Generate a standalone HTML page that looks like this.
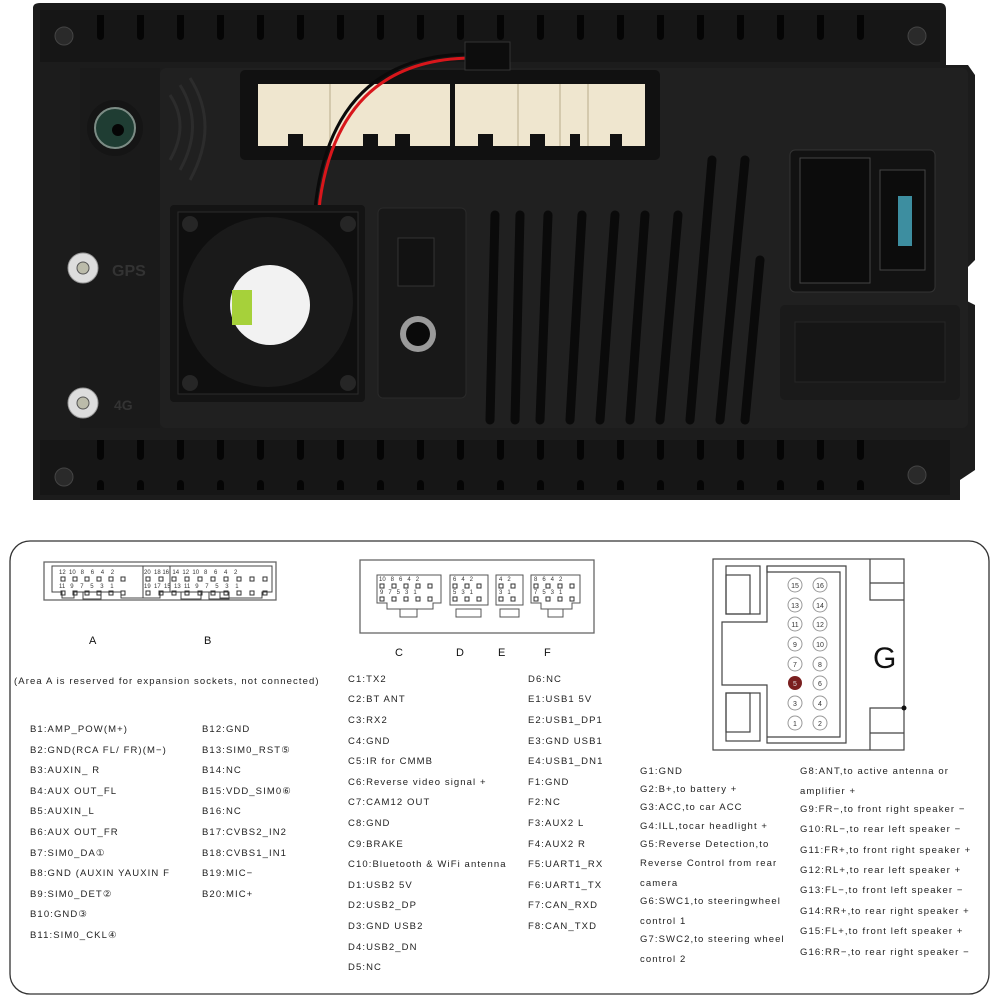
<!DOCTYPE html>
<html><head><meta charset="utf-8"><style>
html,body{margin:0;padding:0;background:#fff;}
svg{display:block;}
.t{font-family:"Liberation Sans",sans-serif;font-size:9.5px;letter-spacing:1.1px;fill:#222;}
.n{font-family:"Liberation Sans",sans-serif;font-size:6px;fill:#333;white-space:pre;}
.L{font-family:"Liberation Sans",sans-serif;font-size:11px;fill:#111;}
</style></head><body>
<svg width="1000" height="1000" viewBox="0 0 1000 1000" xmlns="http://www.w3.org/2000/svg">
<defs>
<pattern id="pA" x="60" y="576" width="12" height="14" patternUnits="userSpaceOnUse"><rect x="1" y="1" width="4" height="4" fill="none" stroke="#333" stroke-width="1"/></pattern>
<pattern id="pB" x="145" y="576" width="13" height="14" patternUnits="userSpaceOnUse"><rect x="1" y="1" width="4" height="4" fill="none" stroke="#333" stroke-width="1"/></pattern>
<pattern id="pC" x="379" y="583" width="12" height="13" patternUnits="userSpaceOnUse"><rect x="1" y="1" width="4" height="4" fill="none" stroke="#333" stroke-width="1"/></pattern>
<pattern id="pD" x="452" y="583" width="12" height="13" patternUnits="userSpaceOnUse"><rect x="1" y="1" width="4" height="4" fill="none" stroke="#333" stroke-width="1"/></pattern>
<pattern id="pE" x="498" y="583" width="12" height="13" patternUnits="userSpaceOnUse"><rect x="1" y="1" width="4" height="4" fill="none" stroke="#333" stroke-width="1"/></pattern>
<pattern id="pF" x="533" y="583" width="12" height="13" patternUnits="userSpaceOnUse"><rect x="1" y="1" width="4" height="4" fill="none" stroke="#333" stroke-width="1"/></pattern>
<pattern id="slot" x="0" y="0" width="40" height="60" patternUnits="userSpaceOnUse"><rect x="17" y="0" width="7" height="40" rx="3.5" fill="#050505"/></pattern>
</defs>
<!-- ===== device photo ===== -->
<path d="M33 8 Q33 3 40 3 L940 3 Q946 3 946 10 L946 65 L968 65 L975 75 L975 260 L965 270 L965 300 L975 305 L975 470 L960 480 L960 500 L33 500 Z" fill="#1c1c1c"/>
<rect x="40" y="10" width="900" height="52" fill="#161616"/>
<rect x="95" y="15" width="790" height="45" fill="url(#slot)"/>
<rect x="40" y="440" width="910" height="55" fill="#161616"/>
<rect x="95" y="440" width="790" height="50" fill="url(#slot)"/>
<circle cx="64" cy="36" r="9" fill="#2a2a2a" stroke="#444"/>
<circle cx="917" cy="36" r="9" fill="#2a2a2a" stroke="#444"/>
<circle cx="64" cy="477" r="9" fill="#2a2a2a" stroke="#444"/>
<circle cx="917" cy="475" r="9" fill="#2a2a2a" stroke="#444"/>
<rect x="160" y="68" width="808" height="360" fill="#202020" rx="6"/>
<rect x="80" y="68" width="80" height="360" fill="#1a1a1a"/>
<circle cx="115" cy="128" r="28" fill="#151515"/>
<circle cx="115" cy="128" r="20" fill="#1f3d33" stroke="#7c8c85" stroke-width="2"/>
<circle cx="118" cy="130" r="6" fill="#050505"/>
<path d="M170 95 Q190 125 170 160 M180 85 Q205 125 180 170 M190 78 Q220 125 190 180" stroke="#2c2c2c" stroke-width="3" fill="none"/>
<circle cx="83" cy="268" r="15" fill="#ddd" stroke="#999"/><circle cx="83" cy="268" r="6" fill="#bba" stroke="#555"/>
<circle cx="83" cy="403" r="15" fill="#ddd" stroke="#999"/><circle cx="83" cy="403" r="6" fill="#bba" stroke="#555"/>
<text x="112" y="276" font-family="Liberation Sans" font-size="16" fill="#333" font-weight="bold">GPS</text>
<text x="114" y="410" font-family="Liberation Sans" font-size="14" fill="#333" font-weight="bold">4G</text>
<rect x="240" y="70" width="420" height="90" fill="#111" rx="5"/>
<rect x="258" y="84" width="192" height="62" fill="#efe6cf"/>
<rect x="455" y="84" width="190" height="62" fill="#efe6cf"/>
<g fill="#111"><rect x="288" y="134" width="15" height="12"/><rect x="363" y="134" width="15" height="12"/><rect x="395" y="134" width="15" height="12"/><rect x="478" y="134" width="15" height="12"/><rect x="530" y="134" width="15" height="12"/><rect x="570" y="134" width="10" height="12"/><rect x="610" y="134" width="12" height="12"/></g>
<path d="M330 84 V146 M518 84 V146 M560 84 V146 M588 84 V146" stroke="#d4c9ad" stroke-width="2"/>
<path d="M470 58 Q340 60 320 200 Q315 260 290 285" stroke="#d8161b" stroke-width="3" fill="none"/>
<path d="M472 54 Q335 54 316 200 Q311 258 286 285" stroke="#0a0a0a" stroke-width="3" fill="none"/>
<rect x="465" y="42" width="45" height="28" fill="#0d0d0d" stroke="#333"/>
<rect x="170" y="205" width="195" height="197" fill="#141414" rx="4"/>
<rect x="178" y="212" width="180" height="182" fill="#0f0f0f" stroke="#2b2b2b"/>
<circle cx="268" cy="302" r="85" fill="#1a1a1a"/>
<circle cx="190" cy="224" r="8" fill="#262626"/><circle cx="348" cy="224" r="8" fill="#262626"/><circle cx="190" cy="383" r="8" fill="#262626"/><circle cx="348" cy="383" r="8" fill="#262626"/>
<circle cx="270" cy="305" r="40" fill="#f2f2f2"/>
<rect x="232" y="290" width="20" height="35" fill="#a6d13a"/>
<rect x="378" y="208" width="88" height="190" fill="#181818" rx="5" stroke="#2a2a2a"/>
<rect x="398" y="238" width="36" height="48" fill="#121212" stroke="#333"/>
<circle cx="418" cy="334" r="18" fill="#9a9a9a"/><circle cx="418" cy="334" r="12" fill="#0a0a0a"/>
<g stroke="#0a0a0a" stroke-width="9" stroke-linecap="round">
<line x1="495" y1="215" x2="490" y2="420"/><line x1="520" y1="215" x2="515" y2="420"/><line x1="548" y1="215" x2="540" y2="420"/><line x1="582" y1="215" x2="570" y2="420"/><line x1="615" y1="215" x2="600" y2="420"/><line x1="645" y1="215" x2="630" y2="420"/><line x1="678" y1="215" x2="660" y2="420"/><line x1="712" y1="160" x2="690" y2="420"/><line x1="745" y1="160" x2="720" y2="420"/><line x1="760" y1="260" x2="745" y2="420"/>
</g>
<rect x="790" y="150" width="145" height="142" fill="#121212" rx="5" stroke="#333"/>
<rect x="800" y="158" width="70" height="125" fill="#0c0c0c" stroke="#444"/>
<rect x="880" y="170" width="45" height="100" fill="#0c0c0c" stroke="#444"/>
<rect x="898" y="196" width="14" height="50" fill="#3d8ea0"/>
<rect x="780" y="305" width="180" height="95" fill="#1a1a1a" rx="5"/>
<rect x="795" y="322" width="150" height="60" fill="#161616" stroke="#262626"/>
<!-- ===== diagram panel ===== -->
<rect x="10" y="541" width="979" height="453" rx="20" fill="#fff" stroke="#333" stroke-width="1.3"/>
<!-- A/B -->
<rect x="44" y="562" width="232" height="38" fill="none" stroke="#666" stroke-width="1.3"/>
<path d="M52 566 H170 V592 H160 V598 H121 V592 H74 V598 H62 V592 H52 Z" fill="none" stroke="#444"/>
<path d="M143 566 H272 V592 H262 V598 H220 V592 H160 V598 H143 Z" fill="none" stroke="#444"/>
<rect x="83" y="592" width="18" height="7" fill="none" stroke="#444"/>
<rect x="181" y="592" width="20" height="7" fill="none" stroke="#444"/>
<rect x="209" y="592" width="20" height="7" fill="none" stroke="#444"/>
<rect x="60" y="576" width="70" height="20" fill="url(#pA)"/>
<rect x="145" y="576" width="130" height="20" fill="url(#pB)"/>
<text class="n" x="59" y="574">12  10   8    6    4    2</text>
<text class="n" x="59" y="588">11   9    7    5    3    1</text>
<text class="n" x="144" y="574">20  18 16  14  12  10   8    6    4    2</text>
<text class="n" x="144" y="588">19  17  15  13  11   9    7    5    3    1</text>
<text class="L" x="89" y="644">A</text><text class="L" x="204" y="644">B</text>
<!-- C D E F -->
<rect x="360" y="560" width="234" height="73" fill="none" stroke="#666" stroke-width="1.3"/>
<path d="M377 575 H441 V603 H433 V609 H387 V603 H377 Z" fill="none" stroke="#555"/>
<rect x="450" y="575" width="38" height="30" fill="none" stroke="#555"/>
<rect x="496" y="575" width="27" height="30" fill="none" stroke="#555"/>
<path d="M531 575 H580 V603 H572 V609 H541 V603 H531 Z" fill="none" stroke="#555"/>
<rect x="400" y="609" width="17" height="8" fill="none" stroke="#555"/>
<rect x="456" y="609" width="25" height="8" fill="none" stroke="#555"/>
<rect x="500" y="609" width="19" height="8" fill="none" stroke="#555"/>
<rect x="548" y="609" width="15" height="8" fill="none" stroke="#555"/>
<rect x="379" y="583" width="60" height="19" fill="url(#pC)"/>
<rect x="452" y="583" width="36" height="19" fill="url(#pD)"/>
<rect x="498" y="583" width="24" height="19" fill="url(#pE)"/>
<rect x="533" y="583" width="48" height="19" fill="url(#pF)"/>
<text class="n" x="379" y="581">10   8   6   4   2</text>
<text class="n" x="380" y="594">9   7   5   3   1</text>
<text class="n" x="453" y="581">6   4   2</text>
<text class="n" x="453" y="594">5   3   1</text>
<text class="n" x="499" y="581">4   2</text>
<text class="n" x="499" y="594">3   1</text>
<text class="n" x="534" y="581">8   6   4   2</text>
<text class="n" x="534" y="594">7   5   3   1</text>
<text class="L" x="395" y="656">C</text><text class="L" x="456" y="656">D</text><text class="L" x="498" y="656">E</text><text class="L" x="544" y="656">F</text>
<!-- G -->
<g fill="none" stroke="#444" stroke-width="1.2">
<rect x="713" y="559" width="191" height="191"/>
<path d="M767 566 H846 V743 H767 V685 H722 V622 H767 Z"/>
<path d="M767 566 V572 H840 V737 H767"/>
<rect x="726" y="566" width="34" height="48"/><rect x="726" y="575" width="24" height="39"/>
<rect x="726" y="693" width="34" height="48"/><rect x="726" y="693" width="24" height="39"/>
<path d="M870 559 V600 H904 M870 583 H904 M870 750 V708 H904 M870 733 H904"/>
</g>
<circle cx="904" cy="708" r="2.5" fill="#111"/>
<text x="873" y="668" font-family="Liberation Sans" font-size="30" fill="#111">G</text>
<g font-family="Liberation Sans" font-size="7" text-anchor="middle" fill="#333">
<g fill="#fff" stroke="#999"><circle cx="795" cy="585" r="7"/><circle cx="820" cy="585" r="7"/><circle cx="795" cy="605" r="7"/><circle cx="820" cy="605" r="7"/><circle cx="795" cy="624" r="7"/><circle cx="820" cy="624" r="7"/><circle cx="795" cy="644" r="7"/><circle cx="820" cy="644" r="7"/><circle cx="795" cy="664" r="7"/><circle cx="820" cy="664" r="7"/><circle cx="820" cy="683" r="7"/><circle cx="795" cy="703" r="7"/><circle cx="820" cy="703" r="7"/><circle cx="795" cy="723" r="7"/><circle cx="820" cy="723" r="7"/></g>
<circle cx="795" cy="683" r="7" fill="#7a1f1f"/>
<text x="795" y="588">15</text><text x="820" y="588">16</text><text x="795" y="608">13</text><text x="820" y="608">14</text><text x="795" y="627">11</text><text x="820" y="627">12</text><text x="795" y="647">9</text><text x="820" y="647">10</text><text x="795" y="667">7</text><text x="820" y="667">8</text><text x="795" y="686" fill="#ddd">5</text><text x="820" y="686">6</text><text x="795" y="706">3</text><text x="820" y="706">4</text><text x="795" y="726">1</text><text x="820" y="726">2</text>
</g>
<g class="t">
<text class="t" x="14" y="684">(Area A is reserved for expansion sockets, not connected)</text>
<text class="t" x="30" y="732">B1:AMP_POW(M+)</text>
<text class="t" x="30" y="753">B2:GND(RCA FL/ FR)(M−)</text>
<text class="t" x="30" y="773">B3:AUXIN_ R</text>
<text class="t" x="30" y="794">B4:AUX OUT_FL</text>
<text class="t" x="30" y="814">B5:AUXIN_L</text>
<text class="t" x="30" y="835">B6:AUX OUT_FR</text>
<text class="t" x="30" y="856">B7:SIM0_DA①</text>
<text class="t" x="30" y="876">B8:GND (AUXIN YAUXIN F</text>
<text class="t" x="30" y="897">B9:SIM0_DET②</text>
<text class="t" x="30" y="917">B10:GND③</text>
<text class="t" x="30" y="938">B11:SIM0_CKL④</text>
<text class="t" x="202" y="732">B12:GND</text>
<text class="t" x="202" y="753">B13:SIM0_RST⑤</text>
<text class="t" x="202" y="773">B14:NC</text>
<text class="t" x="202" y="794">B15:VDD_SIM0⑥</text>
<text class="t" x="202" y="814">B16:NC</text>
<text class="t" x="202" y="835">B17:CVBS2_IN2</text>
<text class="t" x="202" y="856">B18:CVBS1_IN1</text>
<text class="t" x="202" y="876">B19:MIC−</text>
<text class="t" x="202" y="897">B20:MIC+</text>
<text class="t" x="348" y="682">C1:TX2</text>
<text class="t" x="348" y="702">C2:BT ANT</text>
<text class="t" x="348" y="723">C3:RX2</text>
<text class="t" x="348" y="744">C4:GND</text>
<text class="t" x="348" y="764">C5:IR for CMMB</text>
<text class="t" x="348" y="785">C6:Reverse video signal +</text>
<text class="t" x="348" y="805">C7:CAM12 OUT</text>
<text class="t" x="348" y="826">C8:GND</text>
<text class="t" x="348" y="847">C9:BRAKE</text>
<text class="t" x="348" y="867">C10:Bluetooth &amp; WiFi antenna</text>
<text class="t" x="348" y="888">D1:USB2 5V</text>
<text class="t" x="348" y="908">D2:USB2_DP</text>
<text class="t" x="348" y="929">D3:GND USB2</text>
<text class="t" x="348" y="950">D4:USB2_DN</text>
<text class="t" x="348" y="970">D5:NC</text>
<text class="t" x="528" y="682">D6:NC</text>
<text class="t" x="528" y="702">E1:USB1 5V</text>
<text class="t" x="528" y="723">E2:USB1_DP1</text>
<text class="t" x="528" y="744">E3:GND USB1</text>
<text class="t" x="528" y="764">E4:USB1_DN1</text>
<text class="t" x="528" y="785">F1:GND</text>
<text class="t" x="528" y="805">F2:NC</text>
<text class="t" x="528" y="826">F3:AUX2 L</text>
<text class="t" x="528" y="847">F4:AUX2 R</text>
<text class="t" x="528" y="867">F5:UART1_RX</text>
<text class="t" x="528" y="888">F6:UART1_TX</text>
<text class="t" x="528" y="908">F7:CAN_RXD</text>
<text class="t" x="528" y="929">F8:CAN_TXD</text>
<text class="t" x="640" y="774">G1:GND</text>
<text class="t" x="640" y="792">G2:B+,to battery +</text>
<text class="t" x="640" y="810">G3:ACC,to car ACC</text>
<text class="t" x="640" y="829">G4:ILL,tocar headlight +</text>
<text class="t" x="640" y="847">G5:Reverse Detection,to</text>
<text class="t" x="640" y="866">Reverse Control from rear</text>
<text class="t" x="640" y="886">camera</text>
<text class="t" x="640" y="904">G6:SWC1,to steeringwheel</text>
<text class="t" x="640" y="924">control 1</text>
<text class="t" x="640" y="942">G7:SWC2,to steering wheel</text>
<text class="t" x="640" y="962">control 2</text>
<text class="t" x="800" y="774">G8:ANT,to active antenna or</text>
<text class="t" x="800" y="794">amplifier +</text>
<text class="t" x="800" y="812">G9:FR−,to front right speaker −</text>
<text class="t" x="800" y="832">G10:RL−,to rear left speaker −</text>
<text class="t" x="800" y="853">G11:FR+,to front right speaker +</text>
<text class="t" x="800" y="873">G12:RL+,to rear left speaker +</text>
<text class="t" x="800" y="893">G13:FL−,to front left speaker −</text>
<text class="t" x="800" y="914">G14:RR+,to rear right speaker +</text>
<text class="t" x="800" y="934">G15:FL+,to front left speaker +</text>
<text class="t" x="800" y="955">G16:RR−,to rear right speaker −</text>
</g>
</svg>
</body></html>
